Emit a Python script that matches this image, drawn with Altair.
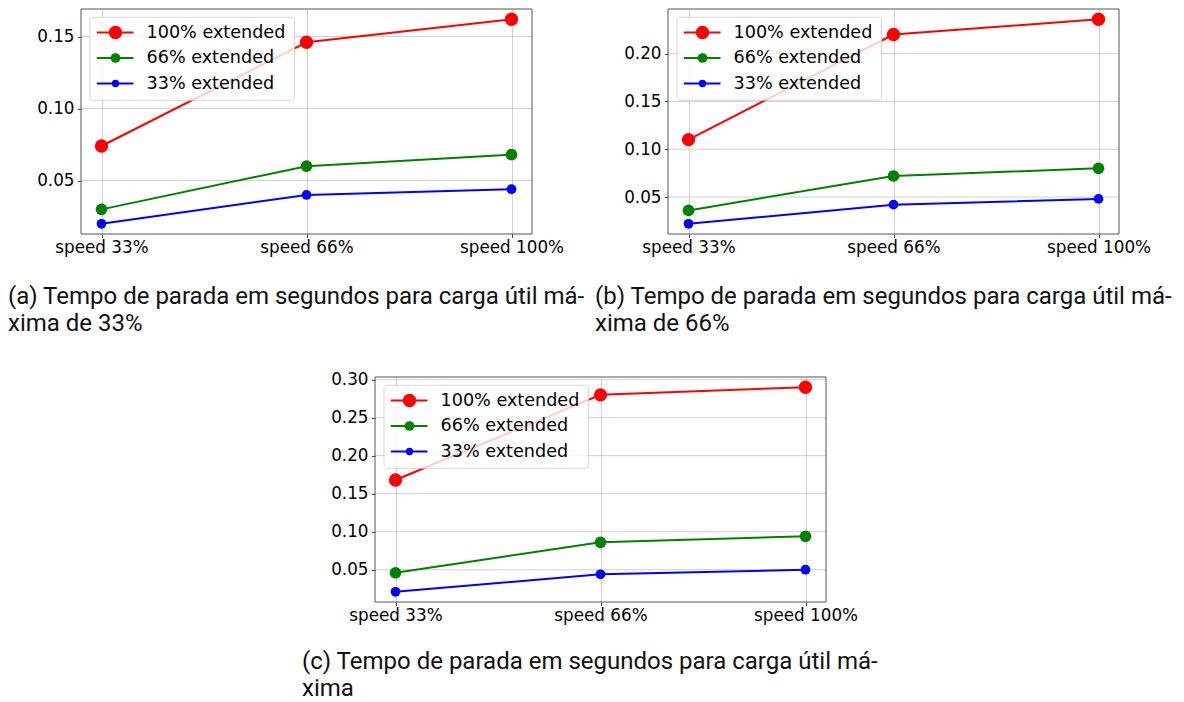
import altair as alt
import pandas as pd

categories = ["speed 33%", "speed 66%", "speed 100%"]
series = ["100% extended", "66% extended", "33% extended"]
colors = ["#ff0000", "#008000", "#0000ff"]
marker_sizes = [177, 95, 54]

a_100 = [0.074, 0.146, 0.162]
a_66 = [0.030, 0.060, 0.068]
a_33 = [0.020, 0.040, 0.044]

b_100 = [0.110, 0.220, 0.236]
b_66 = [0.036, 0.072, 0.080]
b_33 = [0.022, 0.042, 0.048]

c_100 = [0.168, 0.280, 0.290]
c_66 = [0.046, 0.086, 0.094]
c_33 = [0.021, 0.044, 0.050]

ticks_a = [0.05, 0.10, 0.15]
ticks_b = [0.05, 0.10, 0.15, 0.20]
ticks_c = [0.05, 0.10, 0.15, 0.20, 0.25, 0.30]

caption_a = ["(a) Tempo de parada em segundos para carga útil má-", "xima de 33%"]
caption_b = ["(b) Tempo de parada em segundos para carga útil má-", "xima de 66%"]
caption_c = ["(c) Tempo de parada em segundos para carga útil má-", "xima"]

W, H = 451, 225
FRAME = "#555555"
GRID = "#c4c4c4"


def panel(values_by_series, ticks, caption, cap_y, x0=0):
    rows = []
    for s, vals in zip(series, values_by_series):
        for c, v in zip(categories, vals):
            rows.append({"cat": c, "series": s, "value": v})
    df = pd.DataFrame(rows)
    allv = [v for vals in values_by_series for v in vals]
    lo, hi = min(allv), max(allv)
    m = 0.05 * (hi - lo)

    yscale = alt.Scale(domain=[lo - m, hi + m], nice=False, zero=False)
    x = alt.X("cat:N", sort=categories,
              scale=alt.Scale(type="point", padding=0.1, range=[x0, x0 + W]),
              axis=alt.Axis(title=None, labelAngle=0, grid=True))
    y = alt.Y("value:Q", scale=yscale,
              axis=alt.Axis(title=None, values=ticks, format=".2f", grid=False, offset=-x0))
    color = alt.Color("series:N", scale=alt.Scale(domain=series, range=colors), legend=None)

    tick_df = pd.DataFrame({"value": ticks})
    grid = alt.Chart(tick_df).mark_rule(color=GRID, strokeWidth=0.8).encode(
        y=alt.Y("value:Q", scale=yscale), x=alt.value(x0), x2=alt.value(x0 + W))

    base = alt.Chart(df).encode(x=x, y=y, color=color)
    lines = base.mark_line(strokeWidth=2)
    points = base.mark_circle(opacity=1).encode(
        size=alt.Size("series:N", scale=alt.Scale(domain=series, range=marker_sizes), legend=None)
    )

    one = pd.DataFrame({"k": [0]})
    frame = alt.Chart(one).mark_rect(filled=False, stroke=FRAME, strokeWidth=1).encode(
        x=alt.value(x0), x2=alt.value(x0 + W), y=alt.value(0), y2=alt.value(H))

    layers = [grid, lines, points, frame]
    layers.append(
        alt.Chart(one).mark_rect(fill="white", fillOpacity=0.8, stroke="#cccccc",
                                 strokeOpacity=0.8, strokeWidth=1, cornerRadius=3)
        .encode(x=alt.value(x0 + 9), x2=alt.value(x0 + 213.5), y=alt.value(8.3), y2=alt.value(91.3))
    )
    for i, (s, c, sz) in enumerate(zip(series, colors, marker_sizes)):
        yy = 23.5 + 25.5 * i
        d = pd.DataFrame({"label": [s]})
        layers.append(alt.Chart(d).mark_rule(color=c, strokeWidth=2)
                      .encode(x=alt.value(x0 + 15.8), x2=alt.value(x0 + 52.5), y=alt.value(yy)))
        layers.append(alt.Chart(d).mark_circle(color=c, opacity=1, size=sz)
                      .encode(x=alt.value(x0 + 34.5), y=alt.value(yy)))
        layers.append(alt.Chart(d).mark_text(align="left", baseline="middle", font="DejaVu Sans",
                                             fontSize=17.6, color="black")
                      .encode(x=alt.value(x0 + 65.5), y=alt.value(yy), text="label:N"))
    layers.append(
        alt.Chart(one).mark_text(align="left", baseline="alphabetic", font="Roboto",
                                 fontSize=24, lineHeight=27, color="#111111")
        .encode(x=alt.value(x0 - 73), y=alt.value(cap_y), text=alt.value(caption))
    )
    return alt.layer(*layers).properties(width=W, height=H)


pa = panel([a_100, a_66, a_33], ticks_a, caption_a, 295)
pb = panel([b_100, b_66, b_33], ticks_b, caption_b, 295)
pc = panel([c_100, c_66, c_33], ticks_c, caption_c, 292, x0=294)

chart = (
    alt.concat(pa, pb, pc, columns=2, bounds="flush",
               spacing=alt.RowColnumber(column=136, row=143))
    .properties(padding=0, background="white")
    .configure_view(strokeWidth=0)
    .configure_axis(labelFont="DejaVu Sans", labelFontSize=16.8, labelColor="#000000",
                    tickColor="#444444", tickSize=3.5, tickWidth=1, labelPadding=3.5,
                    gridColor=GRID, gridWidth=0.8, domain=False, labelOverlap=False)
    .configure_axisX(labelPadding=2)
)

chart.save("out.html", embed_options={"renderer": "svg", "actions": False})
